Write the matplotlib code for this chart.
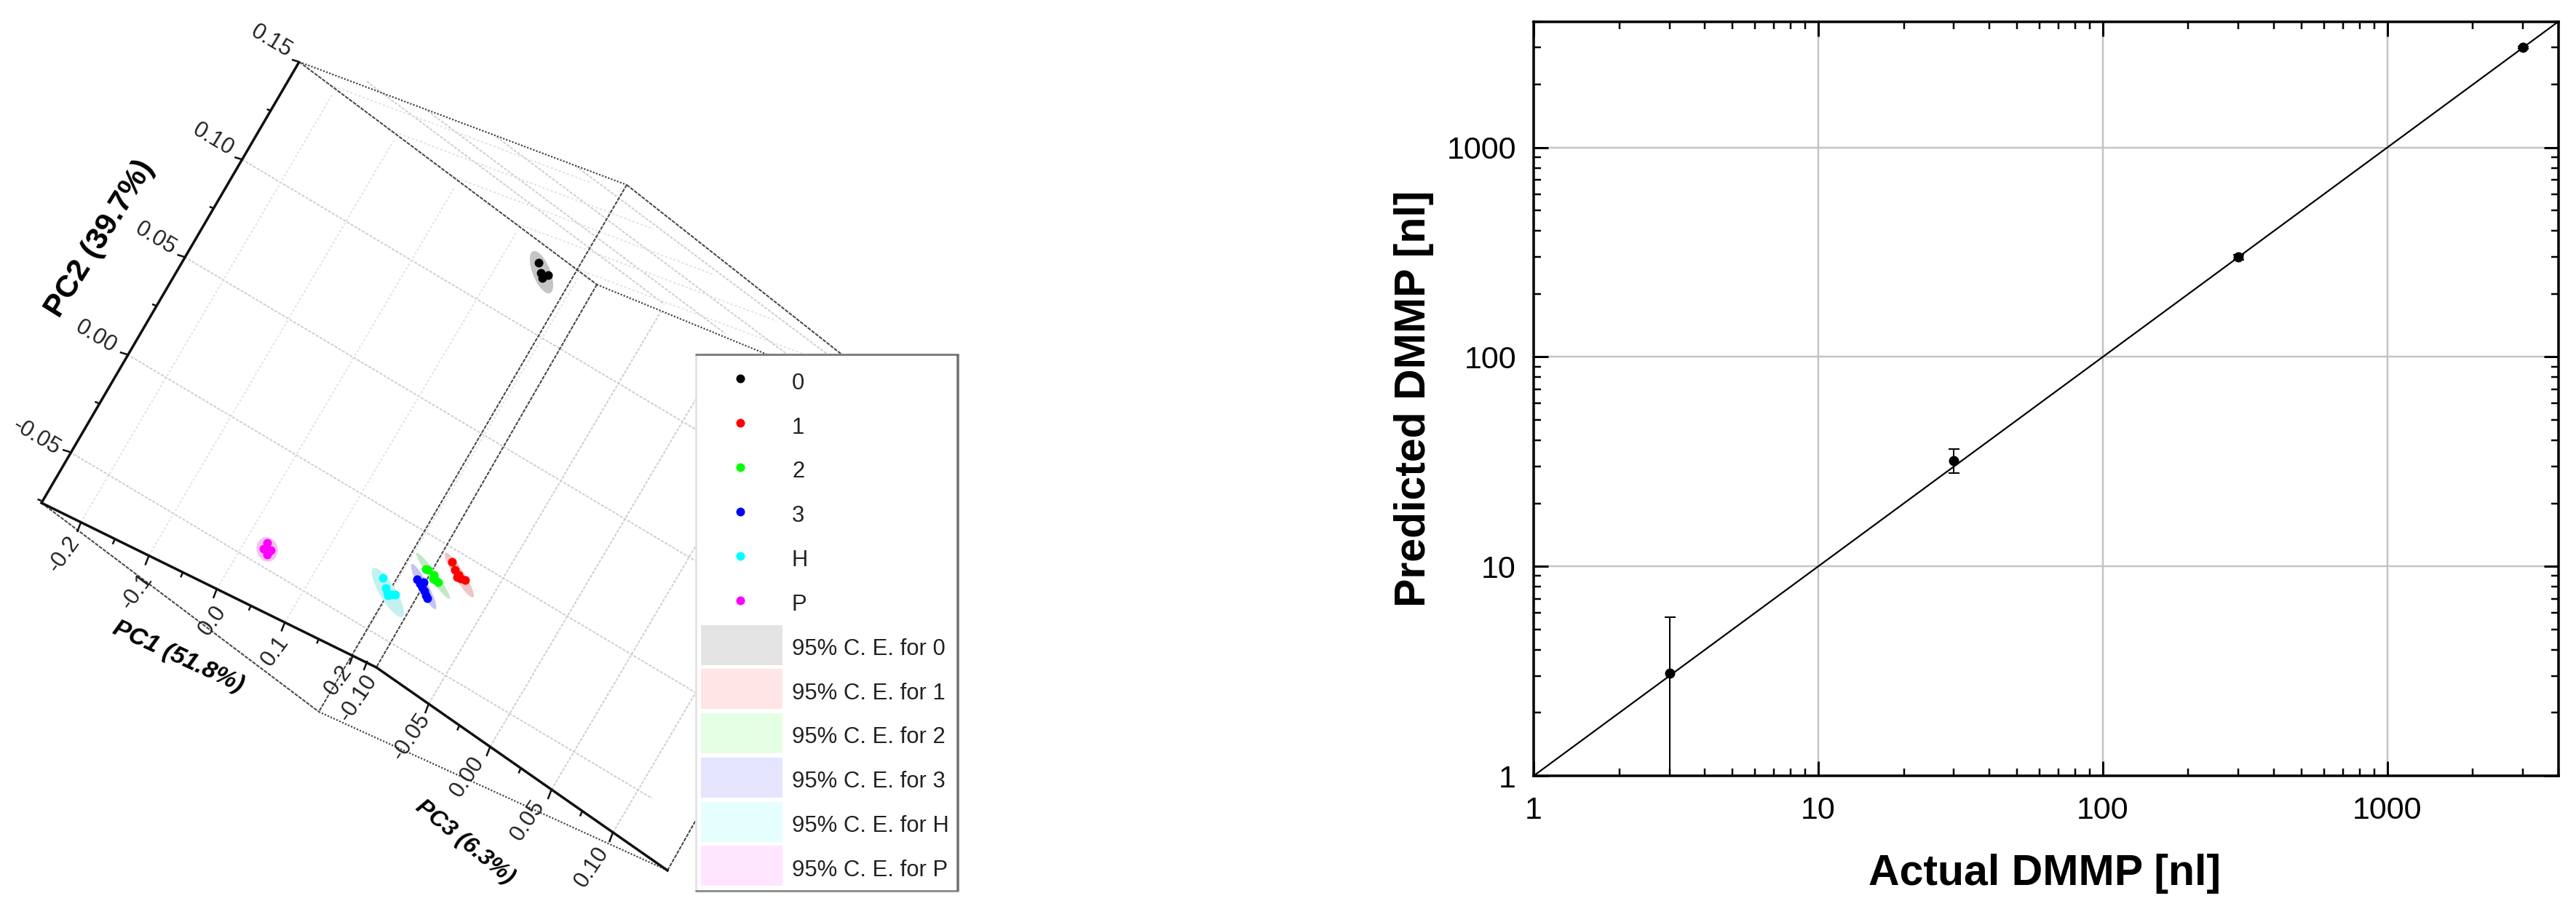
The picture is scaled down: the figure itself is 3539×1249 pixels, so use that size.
#!/usr/bin/env python

# plot.py - a 3D PCA score plot next to a predicted vs actual DMMP log-log plot

# configure
WIDTH  = 3539
HEIGHT = 1249
DPI    = 100
PT     = 72.0 / DPI    # one pixel, in points
FONT   = 'Liberation Sans'

# require
import matplotlib
matplotlib.use( 'Agg' )
import matplotlib.pyplot as plt
from matplotlib.patches import Ellipse, Rectangle
from matplotlib.ticker import NullFormatter
from matplotlib.transforms import Affine2D

plt.rcParams[ 'font.family' ] = FONT

# scores in the plane PC3 = 0
pc1_0 = [ -0.0453, -0.0360, -0.0263, -0.0310 ]
pc2_0 = [ 0.1276, 0.1240, 0.1245, 0.1222 ]
pc1_1 = [ 0.0552, 0.0638, 0.0714, 0.0763, 0.0822, 0.0711 ]
pc2_1 = [ -0.0082, -0.0109, -0.0122, -0.0133, -0.0130, -0.0134 ]
pc1_2 = [ 0.0301, 0.0331, 0.0431, 0.0482, 0.0530, 0.0447 ]
pc2_2 = [ -0.0161, -0.0160, -0.0169, -0.0187, -0.0190, -0.0185 ]
pc1_3 = [ 0.0269, 0.0332, 0.0381, 0.0430, 0.0476, 0.0512, 0.0364 ]
pc2_3 = [ -0.0219, -0.0231, -0.0241, -0.0251, -0.0266, -0.0275, -0.0218 ]
pc1_h = [ -0.0130, -0.0029, 0.0021, 0.0072, 0.0122, 0.0044 ]
pc2_h = [ -0.0278, -0.0313, -0.0331, -0.0330, -0.0321, -0.0338 ]
pc1_p = [ -0.1683, -0.1686, -0.1593, -0.1605 ]
pc2_p = [ -0.0359, -0.0389, -0.0381, -0.0406 ]

# confidence ellipses
classes    = [ '0', '1', '2', '3', 'H', 'P' ]
center_pc1 = [ -0.0357, 0.0722, 0.0428, 0.0393, 0.0025, -0.1640 ]
center_pc2 = [ 0.1244, -0.0121, -0.0174, -0.0235, -0.0327, -0.0385 ]
semi_long  = [ 31, 36, 39, 35, 39, 17 ]
semi_short = [ 12, 7, 5.5, 6.5, 11, 14.5 ]
tilt       = [ 68, 58, 54, 62, 59, 75 ]

# axis ticks of the 3D plot
pc1_ticks = [ -0.2, -0.1, 0.0, 0.1, 0.2 ]
pc2_ticks = [ -0.05, 0.00, 0.05, 0.10, 0.15 ]
pc3_ticks = [ -0.05, 0.00, 0.05, 0.10 ]

# predicted vs actual
actual    = [ 3, 30, 300, 3000 ]
predicted = [ 3.1, 32, 300, 3000 ]
error     = [ 2.6, 4.2, 8, 30 ]
ideal     = [ 1, 4000 ]
log_ticks = [ 1, 10, 100, 1000 ]

# colours
DOT     = [ '#000000', '#ff0000', '#00ff00', '#0000ff', '#00ffff', '#ff00ff' ]
SHADE   = [ '#c4c4c4', '#f0c4c4', '#c4e8c4', '#c4c4ee', '#c4f0f0', '#f0c4f0' ]
SWATCH  = [ '#e4e4e4', '#ffe5e5', '#e5ffe5', '#e5e5ff', '#e5ffff', '#ffe5ff' ]
EDGE    = '#444444'
GRID    = '#cfcfcf'

# box corners, in pixels; the original box is not a true projection
A  = ( 411, 85 )
B  = ( 57, 691 )
K  = ( 517, 917 )
F  = ( 438, 978 )
E  = ( 917, 1196 )
T1 = ( 861, 254 )
T3 = ( 820, 391 )
T4 = ( 1268, 575 )

# PC1, PC2 in the PC3 = 0 plane to pixels
project = Affine2D.from_values( 942, 450, 1572, -2692, 582, 725 )

# define
def on_edge( value, v0, p0, v1, p1 ) :
	t = ( value - v0 ) / ( v1 - v0 )
	return ( p0[ 0 ] + t * ( p1[ 0 ] - p0[ 0 ] ), p0[ 1 ] + t * ( p1[ 1 ] - p0[ 1 ] ) )

def pc1_at( value ) :
	return on_edge( value, -0.2, ( 111, 718 ), 0.2, ( 485, 900 ) )

def pc2_at( value ) :
	return on_edge( value, -0.05, ( 96, 621 ), 0.15, A )

def pc3_at( value ) :
	return on_edge( value, -0.05, ( 589, 967 ), 0.10, ( 842, 1144 ) )

def segment( ax, p, q, **style ) :
	ax.plot( [ p[ 0 ], q[ 0 ] ], [ p[ 1 ], q[ 1 ] ], solid_capstyle='butt', **style )

def shifted( p, vector ) :
	return ( p[ 0 ] + vector[ 0 ], p[ 1 ] + vector[ 1 ] )

# initialize
fig = plt.figure( figsize=( WIDTH / DPI, HEIGHT / DPI ), dpi=DPI )
ax  = fig.add_axes( [ 0, 0, 1, 1 ] )
ax.set_xlim( 0, WIDTH )
ax.set_ylim( HEIGHT, 0 )
ax.axis( 'off' )

faint   = dict( color=GRID, lw=2 * PT, ls=( 0, ( 2, 1 ) ), zorder=1 )
fainter = dict( color='#e2e2e2', lw=2 * PT, ls=( 0, ( 1.5, 1.5 ) ), zorder=1 )
dashed  = dict( color=EDGE, lw=2 * PT, ls=( 0, ( 2.5, 0.8 ) ), zorder=2 )
dotted  = dict( color=EDGE, lw=2.2 * PT, ls=( 0, ( 1, 1 ) ), zorder=2 )
solid   = dict( color='#111111', lw=3.5 * PT, zorder=3 )
tick    = dict( color='#111111', lw=2.5 * PT, zorder=3 )

# grid on the diagonal wall
for value in pc2_ticks[ :-1 ] :
	segment( ax, pc2_at( value ), shifted( pc2_at( value ), ( 800, 476 ) ), **faint )
tops = [ on_edge( value, -0.25, A, 0.235, T3 ) for value in pc1_ticks ]
for value, top in zip( pc1_ticks, tops ) :
	segment( ax, pc1_at( value ), shifted( top, ( 3, 14 ) ), **fainter )
for value in pc3_ticks :
	segment( ax, pc3_at( value ), shifted( pc3_at( value ), ( 319, -539 ) ), **faint )

# grid on the top face
for start in [ ( 504, 112 ), ( 587, 152 ), ( 682, 188 ), ( 791, 228 ) ] :
	segment( ax, start, shifted( start, ( 409, 306 ) ), **faint )
for top in tops :
	segment( ax, top, shifted( top, ( 360, 135 ) ), **fainter )

# box edges
segment( ax, A, T3, **dashed )
segment( ax, A, T1, **dotted )
segment( ax, T3, T4, **dotted )
segment( ax, T1, T4, **dashed )
segment( ax, T3, K, **dashed )
segment( ax, T1, F, **dashed )
segment( ax, B, F, **dashed )
segment( ax, F, E, **dotted )
segment( ax, E, T4, **dashed )
segment( ax, A, B, **solid )
ax.plot( [ B[ 0 ], K[ 0 ], E[ 0 ] ], [ B[ 1 ], K[ 1 ], E[ 1 ] ], **solid )

# axis ticks
for value in pc2_ticks + [ -0.075, -0.025, 0.025, 0.075, 0.125 ] :
	major = value in pc2_ticks
	segment( ax, pc2_at( value ), shifted( pc2_at( value ), ( -10, -3 ) if major else ( -5, -2 ) ), **tick )
for value in pc1_ticks + [ -0.15, -0.05, 0.05, 0.15 ] :
	major = value in pc1_ticks
	segment( ax, pc1_at( value ), shifted( pc1_at( value ), ( -5, 13 ) if major else ( -3, 7 ) ), **tick )
for value in pc3_ticks + [ -0.10, -0.025, 0.025, 0.075 ] :
	major = value in pc3_ticks or value == -0.10
	segment( ax, pc3_at( value ), shifted( pc3_at( value ), ( -5, 13 ) if major else ( -3, 7 ) ), **tick )

# axis labels, set by hand since they follow the box
small = dict( fontsize=31 * PT, color='#222222', ha='center', va='center', zorder=4 )
for text, x, y in zip( [ '-0.05', '0.00', '0.05', '0.10', '0.15' ], [ 50, 132, 214, 293, 373 ], [ 600, 463, 328, 192, 57 ] ) :
	ax.text( x, y, text, rotation=-31, **small )
for text, x, y in zip( [ '-0.2', '-0.1', '0.0', '0.1', '0.2' ], [ 88, 188, 292, 378, 465 ], [ 762, 813, 853, 895, 935 ] ) :
	ax.text( x, y, text, rotation=54, **small )
for text, x, y in zip( [ '-0.10', '-0.05', '0.00', '0.05', '0.10' ], [ 492, 565, 642, 725, 813 ], [ 959, 1012, 1067, 1127, 1191 ] ) :
	ax.text( x, y, text, rotation=56, **small )
ax.text( 137, 328, 'PC2 (39.7%)', fontsize=43 * PT, fontweight='bold', rotation=58, ha='center', va='center' )
ax.text( 245, 903, 'PC1 (51.8%)', fontsize=34 * PT, fontweight='bold', style='italic', rotation=-24.8, ha='center', va='center' )
ax.text( 639, 1157, 'PC3 (6.3%)', fontsize=32 * PT, fontweight='bold', style='italic', rotation=-39, ha='center', va='center' )

# confidence ellipses and scores
for i in range( len( classes ) ) :
	center = project.transform( ( center_pc1[ i ], center_pc2[ i ] ) )
	ax.add_patch( Ellipse( center, 2 * semi_long[ i ], 2 * semi_short[ i ], angle=tilt[ i ], color=SHADE[ i ], lw=0, zorder=3 ) )
scores = [ ( pc1_0, pc2_0 ), ( pc1_1, pc2_1 ), ( pc1_2, pc2_2 ), ( pc1_3, pc2_3 ), ( pc1_h, pc2_h ), ( pc1_p, pc2_p ) ]
for ( pc1, pc2 ), colour in zip( scores, DOT ) :
	ax.plot( pc1, pc2, 'o', color=colour, ms=12 * PT, mew=0, transform=project + ax.transData, zorder=4 )

# legend
ax.add_patch( Rectangle( ( 956, 487 ), 360, 737, fc='white', ec='none', zorder=5 ) )
segment( ax, ( 956, 487 ), ( 956, 1224 ), color='#e4e4e4', lw=3 * PT, zorder=6 )
segment( ax, ( 955, 487 ), ( 1317, 487 ), color='#808080', lw=3 * PT, zorder=6 )
segment( ax, ( 955, 1224 ), ( 1317, 1224 ), color='#909090', lw=3 * PT, zorder=6 )
segment( ax, ( 1316, 487 ), ( 1316, 1224 ), color='#707070', lw=3.5 * PT, zorder=6 )
swatch_top = [ 859, 919, 980, 1041, 1102, 1162 ]
legend     = dict( fontsize=31 * PT, color='#222222', va='center', ha='left', zorder=7 )
for i, name in enumerate( classes ) :
	ax.plot( 1017, 520 + 61 * i, 'o', color=DOT[ i ], ms=12 * PT, mew=0, zorder=7 )
	ax.text( 1088, 527 + 60.7 * i, name, **legend )
	ax.add_patch( Rectangle( ( 963, swatch_top[ i ] ), 112, 55, fc=SWATCH[ i ], ec='none', zorder=6 ) )
	ax.text( 1088, 892 + 60.7 * i, '95% C. E. for ' + name, **legend )

# build the log-log plot
left, right, top, bottom = 2107, 3515, 29.5, 1066
axr = fig.add_axes( [ left / WIDTH, 1 - bottom / HEIGHT, ( right - left ) / WIDTH, ( bottom - top ) / HEIGHT ] )
axr.set_xscale( 'log' )
axr.set_yscale( 'log' )
axr.grid( True, which='major', color='#c4c4c4', lw=2.5 * PT )
axr.set_axisbelow( True )
axr.plot( ideal, ideal, color='black', lw=2.2 * PT, zorder=3 )
axr.errorbar( actual, predicted, yerr=error, fmt='none', ecolor='black', elinewidth=2 * PT, capsize=7.5 * PT, capthick=2 * PT, zorder=4 )
axr.plot( actual, predicted, 'o', color='black', ms=14 * PT, mew=0, zorder=5 )
axr.set_xlim( ideal )
axr.set_ylim( ideal )
axr.set_xticks( log_ticks, [ str( t ) for t in log_ticks ] )
axr.set_yticks( log_ticks, [ str( t ) for t in log_ticks ] )
axr.xaxis.set_minor_formatter( NullFormatter() )
axr.yaxis.set_minor_formatter( NullFormatter() )
axr.tick_params( which='major', direction='in', top=True, right=True, length=20 * PT, width=3 * PT, labelsize=43 * PT )
axr.tick_params( which='minor', direction='in', top=True, right=True, length=10 * PT, width=2.5 * PT )
axr.tick_params( axis='x', which='major', pad=28 * PT )
axr.tick_params( axis='y', which='major', pad=24 * PT )
for spine in axr.spines.values() :
	spine.set_linewidth( 3.5 * PT )

bold = dict( fontsize=59 * PT, fontweight='bold', ha='center', va='center' )
fig.text( 2809 / WIDTH, 1 - 1200 / HEIGHT, 'Actual DMMP [nl]', **bold )
fig.text( 1942 / WIDTH, 1 - 548 / HEIGHT, 'Predicted DMMP [nl]', rotation=90, **bold )

# output and done
fig.savefig( 'out.png', dpi=DPI, facecolor='white' )
